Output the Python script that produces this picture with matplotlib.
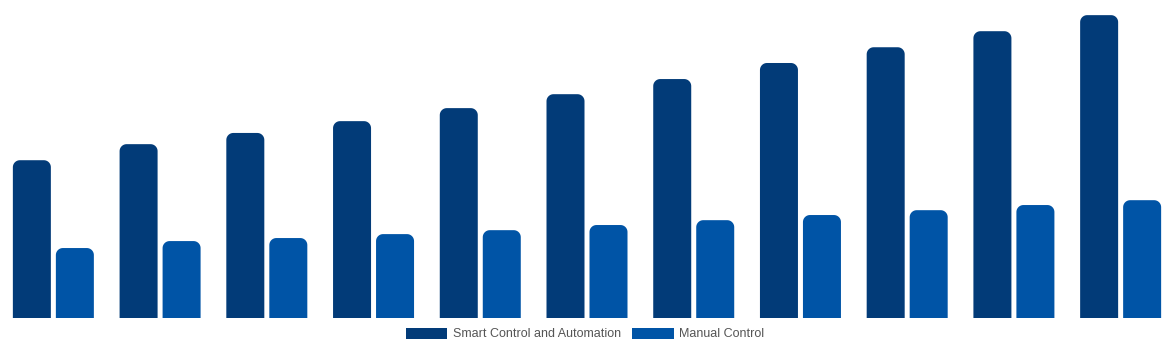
import matplotlib.pyplot as plt
from matplotlib.patches import Patch, Polygon
import numpy as np

plt.rcParams['font.family'] = ['Liberation Sans', 'DejaVu Sans']

years = ['2020', '2021', '2022', '2023', '2024', '2025',
         '2026', '2027', '2028', '2029', '2030']
smart = [52.1, 57.4, 61.1, 65.0, 69.3, 73.9, 78.9, 84.2, 89.4, 94.7, 100.0]
manual = [23.1, 25.4, 26.4, 27.7, 29.0, 30.7, 32.3, 34.0, 35.6, 37.3, 38.9]
series = ['Smart Control and Automation', 'Manual Control']
colors = ['#023b78', '#0054a6']

W, H, DPI = 1174, 350, 100
fig = plt.figure(figsize=(W / DPI, H / DPI), dpi=DPI)
ax = fig.add_axes([0, 32 / H, 1, 318 / H])
ax.set_xlim(-0.5, len(years) - 0.5)
ax.set_ylim(0, 105)
ax.axis('off')

x = np.arange(len(years))
px_x = W / len(years)          # pixels per category
px_y = 318 / 105               # pixels per value unit
bw = 38 / px_x
off = 21.5 / px_x
rad = 7                        # corner radius in pixels


def top_rounded(x0, w, h):
    rx, ry = rad / px_x, rad / px_y
    t = np.linspace(0, np.pi / 2, 12)
    left = np.column_stack([x0 + rx - rx * np.cos(t), h - ry + ry * np.sin(t)])
    right = np.column_stack([x0 + w - rx + rx * np.sin(t), h - ry + ry * np.cos(t)])
    return np.vstack([[x0, 0], left, right, [x0 + w, 0]])


def rounded_bars(xs, vals, color):
    bars = ax.bar(xs, vals, width=bw, color=color)
    for b in bars:
        b.set_visible(False)
        ax.add_patch(Polygon(top_rounded(b.get_x(), b.get_width(), b.get_height()),
                             closed=True, facecolor=color, edgecolor='none'))


rounded_bars(x - off, smart, colors[0])
rounded_bars(x + off, manual, colors[1])

handles = [Patch(facecolor=c, edgecolor='none') for c in colors]
fig.legend(handles, series, loc='center', bbox_to_anchor=(0.4985, 1 - 334 / H),
           ncol=2, frameon=False, fontsize=9, labelcolor='#555555',
           handlelength=3.3, handleheight=1.0, handletextpad=0.45,
           columnspacing=0.9, borderpad=0)

fig.savefig('out.png', dpi=DPI)
